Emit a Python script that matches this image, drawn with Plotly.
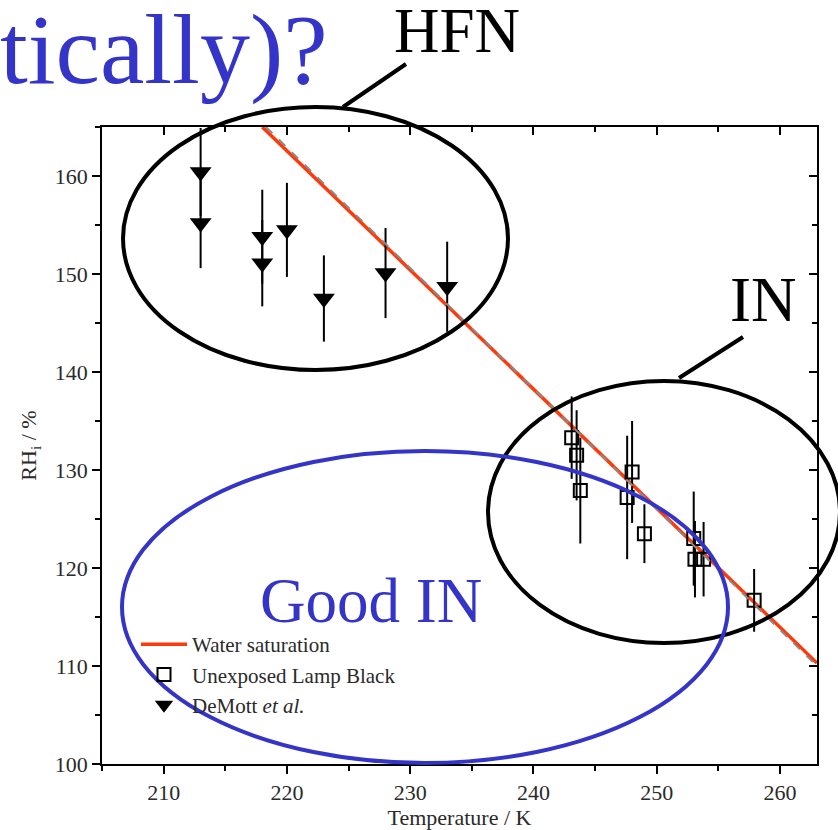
import plotly.graph_objects as go

# ---------------- data ----------------
ws_temp = [218, 230, 240, 250, 263]
ws_rh = [165.0, 150.4, 138.2, 126.1, 110.3]

ref_temp = [218.3, 263]
ref_rh = [165.0, 110.0]

lamp_temp = [243.1, 243.5, 243.8, 247.6, 248.0, 249.0, 253.0, 253.1, 253.8, 257.9]
lamp_rh = [133.3, 131.5, 127.9, 127.2, 129.8, 123.5, 123.0, 120.9, 120.9, 116.7]
lamp_err = [4.2, 4.6, 5.4, 6.3, 5.2, 3.0, 4.8, 3.9, 3.8, 3.2]

demott_temp = [213, 213, 218, 218, 220, 223, 228, 233]
demott_rh = [160.4, 155.2, 153.8, 151.1, 154.5, 147.5, 150.1, 148.7]
demott_err = [4.5, 4.6, 4.8, 4.4, 4.8, 4.4, 4.6, 4.6]

x_ticks = [210, 220, 230, 240, 250, 260]
y_ticks = [100, 110, 120, 130, 140, 150, 160]

# ---------------- layout geometry ----------------
W, H = 838, 830
L, R, T, B = 102, 817, 127, 764  # plot area in pixels


def px(x):
    return (x - L) / (R - L)


def py(y):
    return (B - y) / (B - T)


SERIF = "Liberation Serif"
BLUE = "#3434C8"
RED = "#FF3A0A"
TXT = "#2a2a2a"

fig = go.Figure()

fig.add_trace(go.Scatter(
    x=ref_temp, y=ref_rh, mode="lines", xaxis="x2", yaxis="y2",
    line=dict(color="#8a8a8a", width=2, dash="dash"), showlegend=False, hoverinfo="skip"))

fig.add_trace(go.Scatter(
    x=ws_temp, y=ws_rh, mode="lines", name="Water saturation",
    line=dict(color=RED, width=3.5)))

fig.add_trace(go.Scatter(
    x=lamp_temp, y=lamp_rh, mode="markers", name="Unexposed Lamp Black",
    marker=dict(symbol="square-open", size=13, color="black", line=dict(width=2, color="black")),
    error_y=dict(type="data", array=lamp_err, color="black", thickness=2, width=0)))

fig.add_trace(go.Scatter(
    x=demott_temp, y=demott_rh, mode="markers", name="DeMott <i>et al.</i>",
    marker=dict(symbol="triangle-down", size=19, color="black"),
    error_y=dict(type="data", array=demott_err, color="black", thickness=2, width=0)))

axis_common = dict(showgrid=False, zeroline=False, showline=True, linecolor="black",
                   linewidth=1.5, tickcolor="black", tickwidth=1.5, automargin=False,
                   tickfont=dict(family=SERIF, size=22, color=TXT))

fig.update_layout(
    width=W, height=H,
    margin=dict(l=L, r=W - R, t=T, b=H - B),
    paper_bgcolor="white", plot_bgcolor="white",
    xaxis=dict(range=[205, 263], tickvals=x_ticks, ticks="outside", ticklen=8,
               minor=dict(ticks="outside", ticklen=5, dtick=5, tick0=205, tickcolor="black", tickwidth=1.5),
               title=dict(text="Temperature / K", font=dict(family=SERIF, size=22, color=TXT), standoff=4),
               **axis_common),
    yaxis=dict(range=[100, 165], tickvals=y_ticks, ticks="outside", ticklen=8,
               minor=dict(ticks="outside", ticklen=5, dtick=5, tick0=100, tickcolor="black", tickwidth=1.5),
               title=dict(text="RH<sub>i</sub> / %", font=dict(family=SERIF, size=22, color=TXT), standoff=12),
               **axis_common),
    xaxis2=dict(range=[205, 263], overlaying="x", side="top", anchor="y2", tickvals=x_ticks,
                ticks="inside", ticklen=8, showticklabels=False,
                minor=dict(ticks="inside", ticklen=5, dtick=5, tick0=205, tickcolor="black", tickwidth=1.5),
                **axis_common),
    yaxis2=dict(range=[100, 165], overlaying="y", side="right", anchor="x2", tickvals=y_ticks,
                ticks="inside", ticklen=8, showticklabels=False,
                minor=dict(ticks="inside", ticklen=5, dtick=5, tick0=100, tickcolor="black", tickwidth=1.5),
                **axis_common),
    legend=dict(x=px(136), y=py(624), xanchor="left", yanchor="top",
                bgcolor="rgba(0,0,0,0)", font=dict(family=SERIF, size=21, color=TXT),
                tracegroupgap=0, itemwidth=46),
    showlegend=True,
)

# ellipses (pixel boxes) and callout lines
ellipses = [
    (123, 107, 508, 370, "black"),
    (488, 381, 840, 643, "black"),
    (122, 451, 728, 763, BLUE),
]
for x0, y0, x1, y1, c in ellipses:
    fig.add_shape(type="circle", xref="paper", yref="paper",
                  x0=px(x0), x1=px(x1), y0=py(y1), y1=py(y0),
                  line=dict(color=c, width=4), layer="above")

callouts = [((343, 107), (406, 64)), ((679, 378), (743, 337))]
for (xa, ya), (xb, yb) in callouts:
    fig.add_shape(type="line", xref="paper", yref="paper",
                  x0=px(xa), y0=py(ya), x1=px(xb), y1=py(yb),
                  line=dict(color="black", width=4))

texts = [
    ("tically)?", -2, 50, "left", 100, BLUE),
    ("HFN", 457, 31, "center", 63, "black"),
    ("IN", 763, 300, "center", 63, "black"),
    ("Good IN", 371, 601, "center", 63, BLUE),
]
for txt, x, y, xa, size, c in texts:
    fig.add_annotation(text=txt, xref="paper", yref="paper", x=px(x), y=py(y),
                       xanchor=xa, yanchor="middle", showarrow=False,
                       font=dict(family=SERIF, size=size, color=c))

fig.write_html("out.html", config={"displayModeBar": False},
               post_script="document.body.style.margin='0';")
